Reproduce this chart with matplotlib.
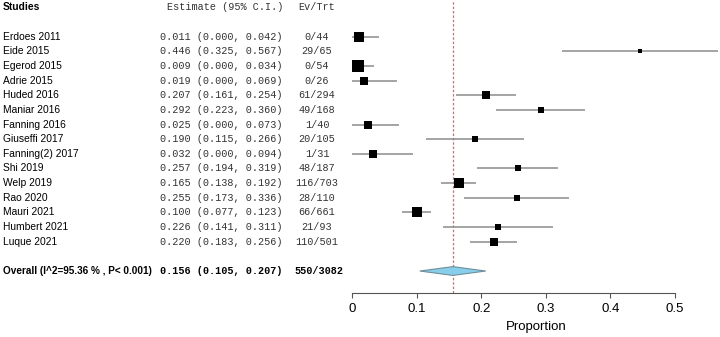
import matplotlib
matplotlib.use('Agg')
import matplotlib.pyplot as plt
import matplotlib.transforms as mtransforms
from matplotlib.patches import Polygon

# 研究数据
studies = ['Erdoes 2011', 'Eide 2015', 'Egerod 2015', 'Adrie 2015', 'Huded 2016',
           'Maniar 2016', 'Fanning 2016', 'Giuseffi 2017', 'Fanning(2) 2017', 'Shi 2019',
           'Welp 2019', 'Rao 2020', 'Mauri 2021', 'Humbert 2021', 'Luque 2021']
estimate = [0.011, 0.446, 0.009, 0.019, 0.207, 0.292, 0.025, 0.190, 0.032, 0.257,
            0.165, 0.255, 0.100, 0.226, 0.220]
ci_low = [0.000, 0.325, 0.000, 0.000, 0.161, 0.223, 0.000, 0.115, 0.000, 0.194,
          0.138, 0.173, 0.077, 0.141, 0.183]
ci_high = [0.042, 0.567, 0.034, 0.069, 0.254, 0.360, 0.073, 0.266, 0.094, 0.319,
           0.192, 0.336, 0.123, 0.311, 0.256]
ev_trt = ['0/44', '29/65', '0/54', '0/26', '61/294', '49/168', '1/40', '20/105', '1/31',
          '48/187', '116/703', '28/110', '66/661', '21/93', '110/501']
# 权重（方块边长，像素，读自原图）
box_px = [11, 5, 12, 9, 8, 7, 8, 6, 8, 6, 11, 6, 11, 6, 9]

overall_label = 'Overall (I^2=95.36 % , P< 0.001)'
overall_est, overall_low, overall_high = 0.156, 0.105, 0.207
overall_ev = '550/3082'

xticks = [0, 0.1, 0.2, 0.3, 0.4, 0.5]

fig = plt.figure(figsize=(7.2, 3.37), dpi=100)
ax = fig.add_axes([352 / 720, 44 / 337, 368 / 720, 293 / 337])
ax.set_xlim(0, 0.5 * 368 / 323)
ax.set_ylim(17.5, -2.5)

rows = list(range(len(studies)))
overall_row = len(studies) + 1

# 置信区间与方块
for i in rows:
    ax.plot([ci_low[i], ci_high[i]], [i, i], color='#8c8c8c', lw=1.1,
            solid_capstyle='butt', zorder=2)
    ax.plot(estimate[i], i, marker='s', color='black', ms=box_px[i] * 0.7,
            mew=0, zorder=3)

# 合并效应菱形
h = 0.3
diamond = Polygon([[overall_low, overall_row], [overall_est, overall_row - h],
                   [overall_high, overall_row], [overall_est, overall_row + h]],
                  closed=True, facecolor='#87ceeb', edgecolor='#6f8f9a', lw=0.8, zorder=3)
ax.add_patch(diamond)

# 红色虚线
ax.axvline(overall_est, color='#ff5a5a', lw=0.9, ls=(0, (2, 1.5)), zorder=1)

# 坐标轴
for s in ['top', 'right', 'left']:
    ax.spines[s].set_visible(False)
ax.spines['bottom'].set_bounds(0, 0.5)
ax.spines['bottom'].set_color('#555555')
ax.set_yticks([])
ax.set_xticks(xticks)
ax.set_xticklabels([f'{t:g}' for t in xticks], fontsize=9.5, family='Liberation Sans')
ax.tick_params(axis='x', length=3.5, color='#555555', pad=4)
ax.set_xlabel('Proportion', fontsize=9.5, family='Liberation Sans', labelpad=4)

# 文字列
trans = mtransforms.blended_transform_factory(fig.transFigure, ax.transData)
sans = 'Liberation Sans'
mono = 'Liberation Mono'
x_name = 3 / 720
x_est = 283 / 720
x_ev = 317 / 720

ax.text(x_name, -2, 'Studies', transform=trans, fontsize=7.4, family=sans,
        fontweight='bold', va='center', ha='left')
ax.text(x_est, -2, 'Estimate (95% C.I.)', transform=trans, fontsize=7.3, family=mono,
        va='center', ha='right', color='#333333')
ax.text(x_ev, -2, 'Ev/Trt', transform=trans, fontsize=7.3, family=mono,
        va='center', ha='center', color='#333333')

for i in rows:
    ax.text(x_name, i, studies[i], transform=trans, fontsize=7.4, family=sans,
            va='center', ha='left')
    ax.text(x_est, i, f'{estimate[i]:.3f} ({ci_low[i]:.3f}, {ci_high[i]:.3f})',
            transform=trans, fontsize=7.3, family=mono, va='center', ha='right',
            color='#333333')
    ax.text(x_ev, i, ev_trt[i], transform=trans, fontsize=7.3, family=mono,
            va='center', ha='center', color='#333333')

ax.text(x_name, overall_row, overall_label, transform=trans, fontsize=7.2, family=sans,
        fontweight='bold', va='center', ha='left')
ax.text(x_est, overall_row, f'{overall_est:.3f} ({overall_low:.3f}, {overall_high:.3f})',
        transform=trans, fontsize=7.3, family=mono, fontweight='bold', va='center', ha='right')
ax.text(x_ev + 2 / 720, overall_row, overall_ev, transform=trans, fontsize=7.3, family=mono,
        fontweight='bold', va='center', ha='center')

fig.savefig('out.png', dpi=100)
